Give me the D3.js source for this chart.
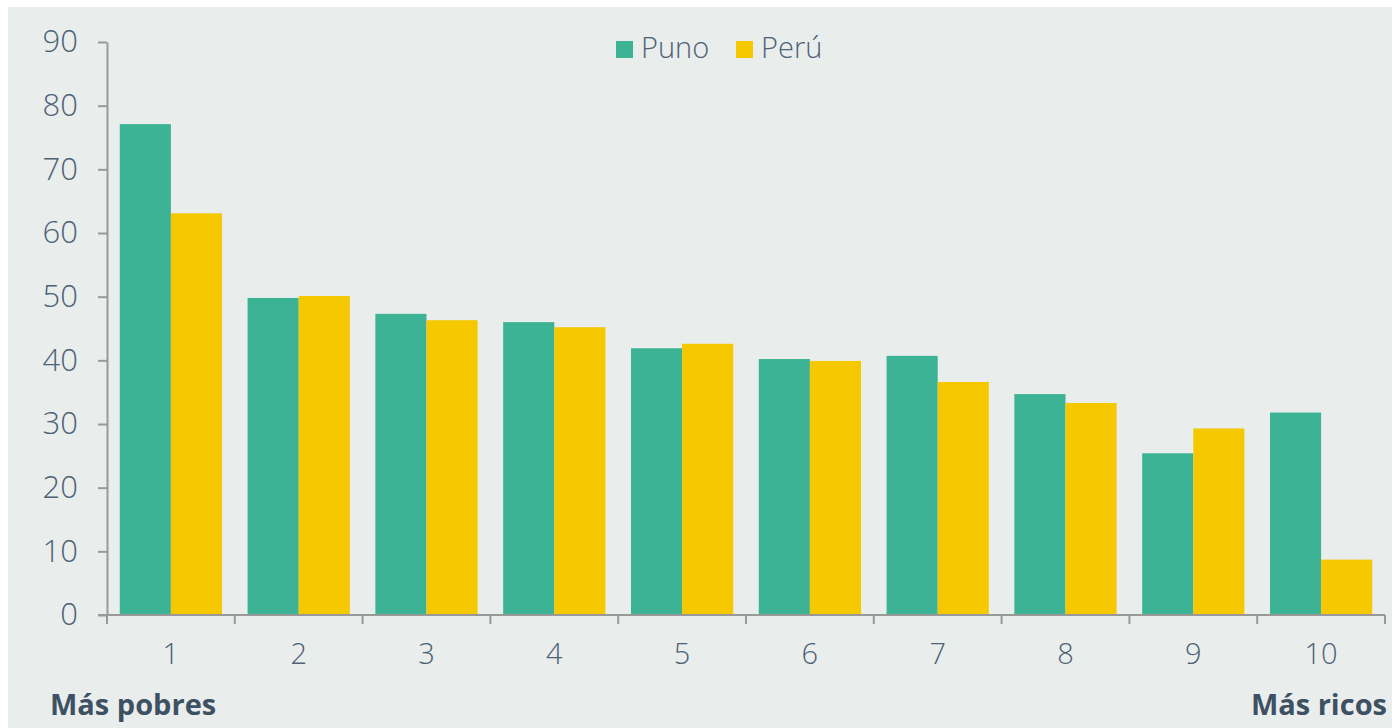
<!DOCTYPE html>
<html>
<head>
<meta charset="utf-8">
<script src="https://cdn.jsdelivr.net/npm/d3@7"></script>
<style>
  body { margin: 0; background: #ffffff; }
  svg text { font-family: "Open Sans", sans-serif; }
</style>
</head>
<body>
<div id="chart"></div>
<script>
// Deciles and values (%)
const deciles = ["1", "2", "3", "4", "5", "6", "7", "8", "9", "10"];
const series = ["Puno", "Perú"];
const puno = [77.1, 49.8, 47.3, 46.0, 41.9, 40.2, 40.7, 34.7, 25.4, 31.8];
const peru = [63.1, 50.1, 46.3, 45.2, 42.6, 39.9, 36.6, 33.3, 29.3, 8.7];
const yTicks = [0, 10, 20, 30, 40, 50, 60, 70, 80, 90];

const colors = { "Puno": "#3bb394", "Perú": "#f5c800" };
const textColor = "#4d6275";

const width = 1392, height = 728;

const svg = d3.select("#chart")
  .append("svg")
  .attr("width", width)
  .attr("height", height);

// panel background
svg.append("rect")
  .attr("x", 8).attr("y", 7)
  .attr("width", width - 8).attr("height", height - 7)
  .attr("fill", "#e9edec");

const rows = deciles.map((d, i) => ({ decile: d, "Puno": puno[i], "Perú": peru[i] }));

const x = d3.scaleBand()
  .domain(deciles)
  .range([107, 1385])
  .paddingInner(0.2)
  .paddingOuter(0.1);

const xSub = d3.scaleBand()
  .domain(series)
  .range([0, x.bandwidth()]);

const y = d3.scaleLinear()
  .domain([0, 90])
  .range([615, 42]);

// bars
const groups = svg.append("g")
  .selectAll("g")
  .data(rows)
  .enter()
  .append("g")
  .attr("transform", d => `translate(${x(d.decile)},0)`);

groups.selectAll("rect")
  .data(d => series.map(s => ({ key: s, value: d[s] })))
  .enter()
  .append("rect")
  .attr("x", d => xSub(d.key))
  .attr("y", d => y(d.value))
  .attr("width", xSub.bandwidth())
  .attr("height", d => y(0) - y(d.value))
  .attr("fill", d => colors[d.key]);

// y axis
const yAxis = svg.append("g")
  .attr("transform", "translate(107,0)")
  .call(d3.axisLeft(y).tickValues(yTicks).tickSize(9).tickPadding(20).tickSizeOuter(0));

// x axis: ticks at band boundaries
const xAxis = svg.append("g")
  .attr("transform", "translate(0,615)");

const boundaries = deciles.map(d => x(d) - x.step() * x.paddingInner() / 2)
  .concat([x(deciles[deciles.length - 1]) + x.bandwidth() + x.step() * x.paddingInner() / 2]);

xAxis.append("line")
  .attr("x1", 98).attr("x2", 1385)
  .attr("y1", 0).attr("y2", 0)
  .attr("stroke", "#999").attr("stroke-width", 2);

xAxis.selectAll(".bt")
  .data(boundaries)
  .enter()
  .append("line")
  .attr("x1", d => d).attr("x2", d => d)
  .attr("y1", 0).attr("y2", 9)
  .attr("stroke", "#999").attr("stroke-width", 2);

xAxis.selectAll(".lbl")
  .data(deciles)
  .enter()
  .append("text")
  .attr("x", d => x(d) + x.bandwidth() / 2)
  .attr("y", 49)
  .attr("text-anchor", "middle")
  .style("font-size", "29px")
  .style("font-weight", 300)
  .style("fill", textColor)
  .text(d => d);

yAxis.select(".domain").attr("stroke", "#999").attr("stroke-width", 2);
yAxis.selectAll(".tick line").attr("stroke", "#999").attr("stroke-width", 2);
yAxis.selectAll(".tick text")
  .style("font-size", "31px")
  .style("font-weight", 300)
  .style("fill", textColor);

// end labels
svg.append("text")
  .attr("x", 50).attr("y", 715)
  .style("font-size", "29px")
  .style("font-weight", 700)
  .style("fill", "#3d5163")
  .text("Más pobres");

svg.append("text")
  .attr("x", 1387).attr("y", 715)
  .attr("text-anchor", "end")
  .style("font-size", "29px")
  .style("font-weight", 700)
  .style("fill", "#3d5163")
  .text("Más ricos");

// legend
const legend = svg.append("g");
const legendX = [616, 736];
series.forEach((s, i) => {
  legend.append("rect")
    .attr("x", legendX[i]).attr("y", 41)
    .attr("width", 17).attr("height", 17)
    .attr("fill", colors[s]);
  legend.append("text")
    .attr("x", legendX[i] + 25).attr("y", 58)
    .style("font-size", "29px")
    .style("font-weight", 300)
    .style("fill", textColor)
    .text(s);
});
</script>
</body>
</html>
